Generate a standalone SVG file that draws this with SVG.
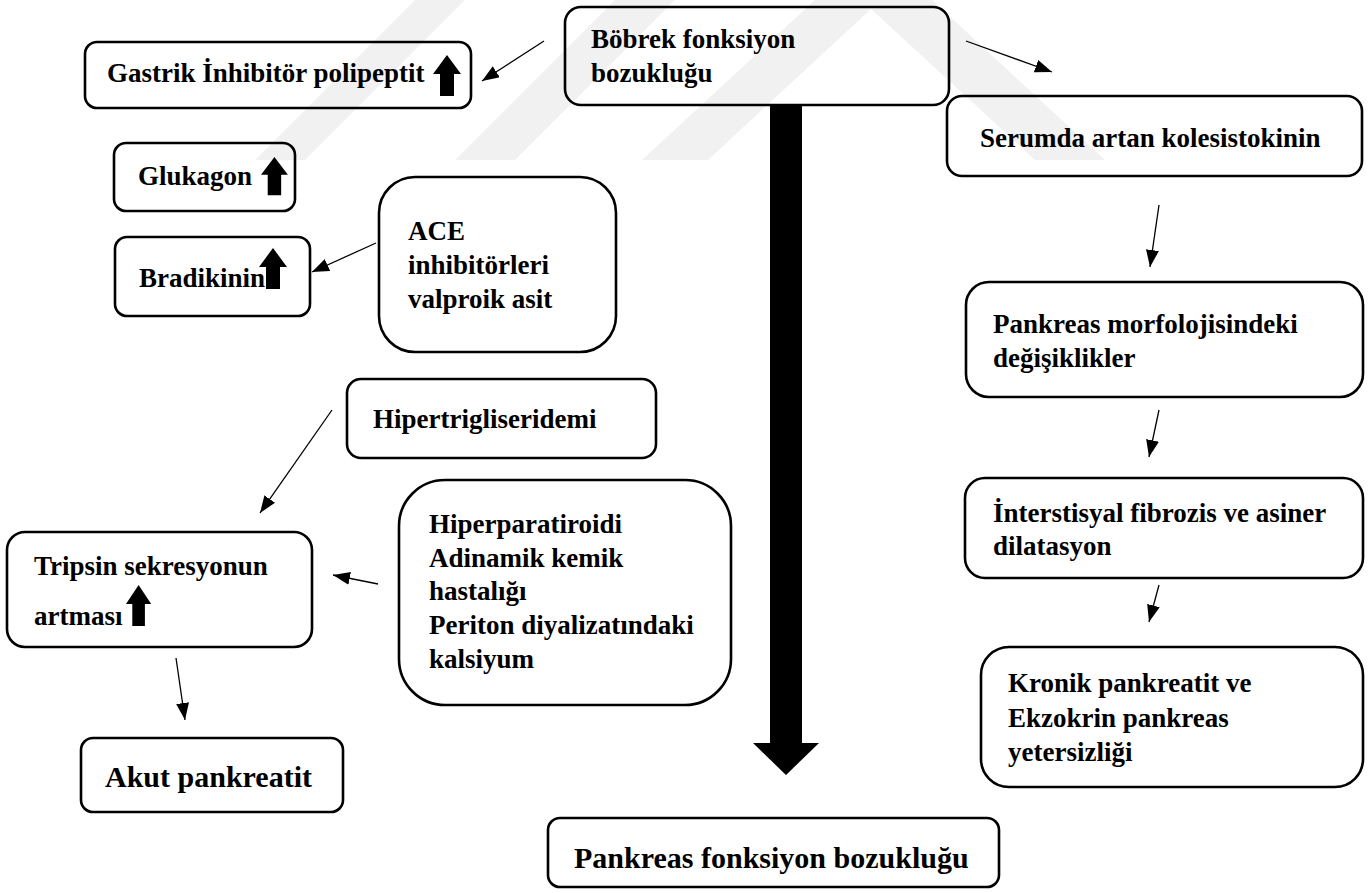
<svg xmlns="http://www.w3.org/2000/svg" width="1372" height="893" viewBox="0 0 1372 893">
<style>
.box{fill:none;stroke:#000;stroke-width:2.6}
.t{font-family:"Liberation Serif","Times New Roman",serif;font-weight:bold;font-size:27px;fill:#000}
.t30{font-size:30px}
.c{fill:none;stroke:#000;stroke-width:1.3;marker-end:url(#ah)}
.wm{fill:#f1f1f1}
</style>
<defs>
<marker id="ah" markerUnits="userSpaceOnUse" markerWidth="18" markerHeight="14" refX="17" refY="6.5" orient="auto">
<path d="M0,0 L17,6.5 L0,13 z" fill="#000"/>
</marker>
<path id="up" d="M0,19 L14,0 L28,19 L21,19 L21,41 L7,41 L7,19 z" fill="#000"/>
</defs>
<rect width="1372" height="893" fill="#fff"/>
<g id="watermark">
<polygon class="wm" points="255,160 305,160 465,0 415,0"/>
<polygon class="wm" points="455,160 515,160 675,0 615,0"/>
<polygon class="wm" points="642,160 815,0 932,0 1105,160 1035,160 871,9 708,160"/>
</g>
<g id="connectors">
<line class="c" x1="544" y1="41" x2="482" y2="81"/>
<line class="c" x1="966" y1="41" x2="1052" y2="72"/>
<line class="c" x1="376" y1="243" x2="312" y2="272"/>
<line class="c" x1="1159" y1="205" x2="1150" y2="267"/>
<line class="c" x1="1159" y1="410" x2="1149" y2="457"/>
<line class="c" x1="1159" y1="585" x2="1149" y2="622"/>
<line class="c" x1="332" y1="410" x2="260" y2="513"/>
<line class="c" x1="378" y1="584" x2="333" y2="575"/>
<line class="c" x1="176" y1="658" x2="185" y2="720"/>
<polygon id="big-arrow" points="770,105 802,105 802,743 819,743 786,775 753,743 770,743" fill="#000"/>
</g>
<g id="n-bobrek">
<rect class="box" x="565" y="7" width="384" height="98" rx="16"/>
<text class="t" x="591" y="48">Böbrek fonksiyon</text>
<text class="t" x="591" y="82">bozukluğu</text>
</g>
<g id="n-gastrik">
<rect class="box" x="85" y="42" width="386" height="66" rx="12"/>
<text class="t" x="107" y="82">Gastrik İnhibitör polipeptit</text>
<use href="#up" x="433" y="55"/>
</g>
<g id="n-glukagon">
<rect class="box" x="114" y="143" width="181" height="68" rx="12"/>
<text class="t" x="138" y="185">Glukagon</text>
<use href="#up" transform="translate(261,157) scale(0.96,0.93)"/>
</g>
<g id="n-bradikinin">
<rect class="box" x="115" y="237" width="195" height="79" rx="12"/>
<text class="t" x="139" y="287">Bradikinin</text>
<use href="#up" x="259" y="248"/>
</g>
<g id="n-ace">
<rect class="box" x="379" y="177" width="237" height="175" rx="36"/>
<text class="t" x="408" y="240">ACE</text>
<text class="t" x="408" y="274">inhibitörleri</text>
<text class="t" x="408" y="308">valproik asit</text>
</g>
<g id="n-hipertrig">
<rect class="box" x="347" y="379" width="309" height="79" rx="14"/>
<text class="t" x="373" y="428">Hipertrigliseridemi</text>
</g>
<g id="n-hiperparat">
<rect class="box" x="399" y="480" width="332" height="225" rx="46"/>
<text class="t" x="429" y="533">Hiperparatiroidi</text>
<text class="t" x="429" y="567">Adinamik kemik</text>
<text class="t" x="429" y="600">hastalığı</text>
<text class="t" x="429" y="634">Periton diyalizatındaki</text>
<text class="t" x="429" y="668">kalsiyum</text>
</g>
<g id="n-tripsin">
<rect class="box" x="7" y="532" width="305" height="115" rx="18"/>
<text class="t" x="34" y="575">Tripsin sekresyonun</text>
<text class="t" x="34" y="625">artması</text>
<use href="#up" transform="translate(126,585) scale(0.9,1)"/>
</g>
<g id="n-akut">
<rect class="box" x="81" y="738" width="262" height="74" rx="12"/>
<text class="t t30" x="105" y="787">Akut pankreatit</text>
</g>
<g id="n-pankreas-fonk">
<rect class="box" x="548" y="818" width="451" height="69" rx="12"/>
<text class="t t30" x="574" y="868">Pankreas fonksiyon bozukluğu</text>
</g>
<g id="n-serumda">
<rect class="box" x="947" y="96" width="415" height="80" rx="15"/>
<text class="t" x="980" y="147">Serumda artan kolesistokinin</text>
</g>
<g id="n-morf">
<rect class="box" x="966" y="282" width="397" height="115" rx="23"/>
<text class="t" x="993" y="333">Pankreas morfolojisindeki</text>
<text class="t" x="993" y="367">değişiklikler</text>
</g>
<g id="n-interstisyal">
<rect class="box" x="965" y="478" width="398" height="100" rx="20"/>
<text class="t" x="993" y="522">İnterstisyal fibrozis ve asiner</text>
<text class="t" x="993" y="555">dilatasyon</text>
</g>
<g id="n-kronik">
<rect class="box" x="981" y="647" width="382" height="140" rx="28"/>
<text class="t" x="1008" y="692">Kronik pankreatit ve</text>
<text class="t" x="1008" y="727">Ekzokrin pankreas</text>
<text class="t" x="1008" y="761">yetersizliği</text>
</g>
</svg>
